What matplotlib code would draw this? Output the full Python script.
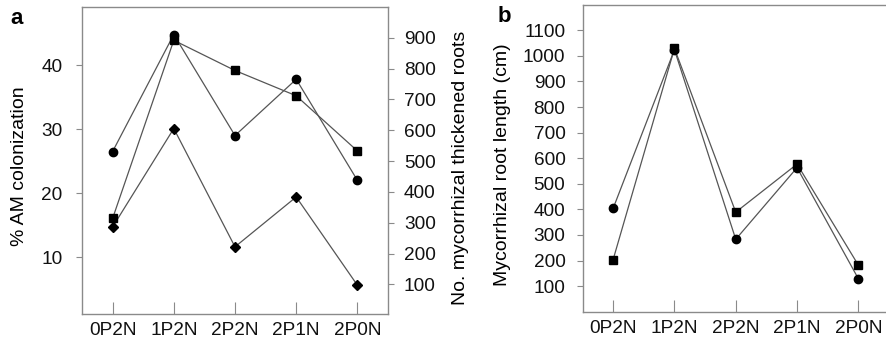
import numpy as np
import matplotlib
matplotlib.use('Agg')
import matplotlib.pyplot as plt

plt.rcParams['font.family'] = ['Liberation Sans', 'DejaVu Sans']

treatments = ['0P2N', '1P2N', '2P2N', '2P1N', '2P0N']

# panel a
colon_circle = [26.5, 44.8, 29.0, 37.8, 22.0]     # % AM colonization
colon_diamond = [14.7, 30.1, 11.6, 19.4, 5.6]     # % AM colonization
thick_roots = [314, 892, 794, 712, 533]           # no. mycorrhizal thickened roots

# panel b
len_circle = [404, 1024, 283, 563, 129]
len_square = [204, 1029, 389, 577, 182]

W, H = 887, 341
fig = plt.figure(figsize=(W / 100, H / 100), dpi=100)

def box(x0, y0, x1, y1):
    return [x0 / W, 1 - y1 / H, (x1 - x0) / W, (y1 - y0) / H]

spine_col = '#8a8a8a'
line_col = '#555555'
fs = 13.7
lfs = 14
x = np.arange(1, 6)

def style(ax):
    for s in ax.spines.values():
        s.set_color(spine_col)
        s.set_linewidth(1.0)
    ax.tick_params(axis='x', direction='in', length=9, pad=6, color=spine_col,
                   labelsize=fs, colors='#111111')
    ax.tick_params(axis='x', color=spine_col)
    ax.set_xticks(x)
    ax.set_xticklabels(treatments)
    ax.set_xlim(0.5, 5.5)

# ---- panel a
ax1 = fig.add_axes(box(82, 7, 388, 314))
style(ax1)
ax1.plot(x, colon_circle, '-', color=line_col, lw=0.9, zorder=2)
ax1.plot(x, colon_circle, 'o', color='black', ms=6, zorder=3)
ax1.plot(x, colon_diamond, '-', color=line_col, lw=0.9, zorder=2)
ax1.plot(x, colon_diamond, 'D', color='black', ms=4.6, zorder=3)
ax1.set_ylim(1.1, 49.1)
ax1.set_yticks([10, 20, 30, 40])
ax1.tick_params(axis='y', direction='out', length=4, pad=10, color=spine_col,
                labelsize=fs, colors='#111111')
ax1.tick_params(axis='y', color=spine_col)

ax2 = ax1.twinx()
for s in ax2.spines.values():
    s.set_visible(False)
ax2.plot(x, thick_roots, '-', color=line_col, lw=0.9, zorder=2)
ax2.plot(x, thick_roots, 's', color='black', ms=5.5, zorder=3)
ax2.set_ylim(4, 1000)
ax2.set_yticks(np.arange(100, 1000, 100))
ax2.tick_params(axis='y', direction='out', length=4.5, pad=7, color=spine_col,
                labelsize=fs, colors='#111111')
ax2.tick_params(axis='y', color=spine_col)

fig.text(20 / W, 1 - 166 / H, '% AM colonization', rotation=90, ha='center',
         va='center', fontsize=lfs)
fig.text(461 / W, 1 - 168 / H, 'No. mycorrhizal thickened roots', rotation=90,
         ha='center', va='center', fontsize=lfs)
fig.text(17 / W, 1 - 18 / H, 'a', fontsize=16, fontweight='bold', ha='center', va='center')

# ---- panel b
ax3 = fig.add_axes(box(582.5, 4.7, 889, 311.7))
style(ax3)
ax3.plot(x, len_circle, '-', color=line_col, lw=0.9, zorder=2)
ax3.plot(x, len_circle, 'o', color='black', ms=6, zorder=3)
ax3.plot(x, len_square, '-', color=line_col, lw=0.9, zorder=2)
ax3.plot(x, len_square, 's', color='black', ms=5.5, zorder=3)
ax3.set_ylim(0, 1200)
ax3.set_yticks(np.arange(100, 1200, 100))
ax3.tick_params(axis='y', direction='out', length=4.3, pad=8, color=spine_col,
                labelsize=fs, colors='#111111')
ax3.tick_params(axis='y', color=spine_col)
fig.text(503 / W, 1 - 165 / H, 'Mycorrhizal root length (cm)', rotation=90,
         ha='center', va='center', fontsize=lfs)
fig.text(504 / W, 1 - 16 / H, 'b', fontsize=16, fontweight='bold', ha='center', va='center')

fig.savefig('out.png', dpi=100)
